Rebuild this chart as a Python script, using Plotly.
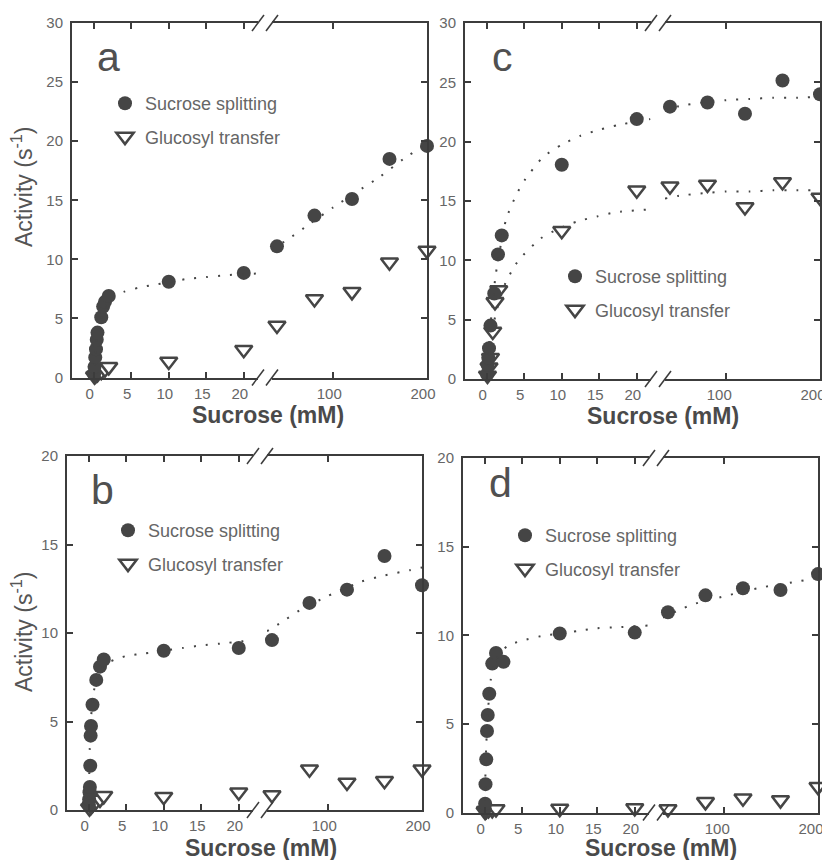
import plotly.graph_objects as go

# ---------------- data ----------------
# Panel a
a_suc_x = [0.05, 0.1, 0.2, 0.3, 0.4, 0.5, 1.0, 1.25, 1.5, 2.0, 10, 20, 40, 80, 120, 160, 200]
a_suc_y = [0.3, 0.9, 1.7, 2.4, 3.2, 3.8, 5.1, 6.0, 6.4, 6.9, 8.1, 8.85, 11.1, 13.7, 15.1, 18.5, 19.6]
a_glu_x = [0.1, 0.25, 0.5, 1.0, 1.5, 2.0, 10, 20, 40, 80, 120, 160, 200]
a_glu_y = [0.1, 0.2, 0.3, 0.5, 0.7, 0.9, 1.35, 2.35, 4.4, 6.65, 7.25, 9.75, 10.75]
a_fit_suc_x = [0, 0.1, 0.25, 0.5, 1.0, 1.5, 2.0, 3.0, 4.0, 6.0, 8.0, 10, 12.5, 15, 17.5, 20, 21.9,
               34.7, 50, 75, 100, 125, 150, 175, 200]
a_fit_suc_y = [0, 1.0, 2.2, 3.6, 5.0, 5.9, 6.4, 6.95, 7.25, 7.6, 7.85, 8.05, 8.35, 8.5, 8.65, 8.75, 8.8,
               10.9, 11.6, 13.0, 14.4, 15.7, 17.0, 18.5, 19.8]

# Panel c
c_suc_x = [0.05, 0.1, 0.2, 0.3, 0.5, 1.0, 1.5, 2.0, 10, 20, 40, 80, 120, 160, 200]
c_suc_y = [0.4, 1.2, 1.8, 2.6, 4.5, 7.2, 10.5, 12.1, 18.05, 21.9, 22.95, 23.3, 22.35, 25.15, 24.0]
c_glu_x = [0.1, 0.3, 0.5, 0.8, 1.1, 1.6, 10, 20, 40, 80, 120, 160, 200]
c_glu_y = [0.3, 1.0, 1.8, 4.0, 6.5, 7.5, 12.5, 15.9, 16.25, 16.4, 14.5, 16.6, 15.3]
c_fit_suc_x = [0, 0.5, 1.2, 2.6, 4.0, 5.1, 7.5, 10, 12.5, 15, 17.5, 21.8,
               34.7, 50, 75, 100, 125, 150, 175, 200]
c_fit_suc_y = [0, 4.5, 8.8, 13.5, 15.6, 16.8, 18.7, 19.75, 20.5, 21.0, 21.4, 21.9,
               22.7, 23.0, 23.3, 23.5, 23.6, 23.7, 23.7, 23.8]
c_fit_glu_x = [0, 0.5, 1.2, 2.5, 3.8, 4.8, 7.2, 9.7, 12.2, 14.7, 17.2, 21.8,
               34.7, 50, 75, 100, 125, 150, 175, 200]
c_fit_glu_y = [0, 3.0, 5.5, 8.1, 9.6, 10.4, 11.85, 12.7, 13.3, 13.7, 14.05, 14.3,
               15.2, 15.45, 15.65, 15.8, 15.8, 15.9, 15.9, 15.9]

# Panel b
b_suc_x = [0.02, 0.05, 0.1, 0.15, 0.2, 0.25, 0.3, 0.5, 1.0, 1.5, 2.0, 10, 20, 40, 80, 120, 160, 200]
b_suc_y = [0.3, 0.6, 1.0, 1.3, 2.5, 4.2, 4.75, 5.95, 7.35, 8.1, 8.5, 9.0, 9.15, 9.6, 11.7, 12.45, 14.35, 12.7]
b_glu_x = [0.1, 0.3, 0.5, 1.0, 1.5, 2.0, 10, 20, 40, 80, 120, 160, 200]
b_glu_y = [0.1, 0.2, 0.3, 0.5, 0.6, 0.8, 0.75, 1.0, 0.85, 2.3, 1.55, 1.65, 2.3]
b_fit_suc_x = [0, 0.05, 0.13, 0.3, 0.7, 1.2, 2.0, 3.5, 5, 7.5, 10, 12.5, 15, 17.5, 21.9,
               34.7, 50, 70, 100, 135, 160, 187, 200]
b_fit_suc_y = [0, 1.6, 3.45, 5.2, 6.75, 7.6, 8.2, 8.5, 8.7, 8.85, 9.0, 9.15, 9.3, 9.4, 9.6,
               10.1, 10.6, 11.3, 12.1, 12.9, 13.25, 13.55, 13.7]

# Panel d
d_suc_x = [0.02, 0.05, 0.1, 0.2, 0.3, 0.4, 0.6, 1.0, 1.5, 2.5, 10, 20, 40, 80, 120, 160, 200]
d_suc_y = [0.2, 0.5, 1.6, 3.0, 4.6, 5.5, 6.7, 8.4, 9.0, 8.5, 10.1, 10.15, 11.3, 12.25, 12.65, 12.55, 13.45]
d_glu_x = [0.05, 0.1, 0.2, 0.5, 1.0, 1.5, 10, 20, 40, 80, 120, 160, 200]
d_glu_y = [0.05, 0.1, 0.1, 0.15, 0.15, 0.2, 0.22, 0.25, 0.2, 0.6, 0.8, 0.7, 1.45]
d_fit_suc_x = [0, 0.05, 0.1, 0.2, 0.4, 0.8, 1.5, 3.0, 5, 7.5, 10, 12.5, 15, 17.5, 21.9,
               34.7, 53, 67, 100, 140, 175, 200]
d_fit_suc_y = [0, 1.0, 2.4, 3.8, 5.5, 7.5, 8.6, 9.4, 9.7, 9.95, 10.1, 10.25, 10.4, 10.45, 10.55,
               11.0, 11.45, 11.75, 12.2, 12.7, 13.0, 13.25]

left_ticks = [0, 5, 10, 15, 20]
right_ticks = [100, 200]
series_names = ["Sucrose splitting", "Glucosyl transfer"]
panel_letters = ["a", "c", "b", "d"]
x_title = "Sucrose (mM)"
y_title = "Activity (s<sup>-1</sup>)"

# ---------------- geometry / style ----------------
# page body has an 8px margin, so the figure starts at (8, 8) in the window
OFF = 8
W, H = 830 - OFF, 860 - OFF
LEFT_RANGE = [-2.9, 21.9]
RIGHT_RANGE = [34.7, 200]
LEFT_W, GAP, FULL_W = 186, 14, 355
FONT = "Liberation Sans, Arial, sans-serif"
AX = "#3c3c3c"
MK = "#454545"
TXT = "#666666"


def fx(p):
    return (p - OFF) / W


def fy(p):
    return 1 - (p - OFF) / H


panels = [
    dict(letter=panel_letters[0], left=72, top=23, bottom=377.5, ymax=30,
         suc=(a_suc_x, a_suc_y), glu=(a_glu_x, a_glu_y),
         fits=[(a_fit_suc_x, a_fit_suc_y)], rshift=-4,
         legend_pos=(145, 103), letter_pos=(95, 57), xt_pos=(268, 415), yt_pos=(22, 187)),
    dict(letter=panel_letters[1], left=465, top=23, bottom=379, ymax=30,
         suc=(c_suc_x, c_suc_y), glu=(c_glu_x, c_glu_y),
         fits=[(c_fit_suc_x, c_fit_suc_y), (c_fit_glu_x, c_fit_glu_y)], rshift=-7,
         legend_pos=(595, 276), letter_pos=(490, 57), xt_pos=(663, 416), yt_pos=None),
    dict(letter=panel_letters[2], left=67, top=456, bottom=810, ymax=20,
         suc=(b_suc_x, b_suc_y), glu=(b_glu_x, b_glu_y),
         fits=[(b_fit_suc_x, b_fit_suc_y)], rshift=-4,
         legend_pos=(148, 530), letter_pos=(89, 490), xt_pos=(261, 848), yt_pos=(22, 632)),
    dict(letter=panel_letters[3], left=463, top=458, bottom=812.5, ymax=20,
         suc=(d_suc_x, d_suc_y), glu=(d_glu_x, d_glu_y),
         fits=[(d_fit_suc_x, d_fit_suc_y)], rshift=-7,
         legend_pos=(545, 535), letter_pos=(487, 483), xt_pos=(661, 848), yt_pos=None),
]


def split(xs, ys):
    lx = [x for x in xs if x <= LEFT_RANGE[1]]
    ly = [y for x, y in zip(xs, ys) if x <= LEFT_RANGE[1]]
    rx = [x for x in xs if x >= RIGHT_RANGE[0]]
    ry = [y for x, y in zip(xs, ys) if x >= RIGHT_RANGE[0]]
    return (lx, ly), (rx, ry)


fig = go.Figure()
layout = {}
shapes = []
annotations = []

axis_common = dict(showgrid=False, zeroline=False, showline=True, linecolor=AX, linewidth=2,
                   ticks="inside", ticklen=6, tickwidth=1.5, tickcolor=AX, automargin=False,
                   tickfont=dict(family=FONT, size=15, color=TXT))

for i, p in enumerate(panels):
    k1, k2 = 2 * i + 1, 2 * i + 2
    xa1 = "x" if k1 == 1 else f"x{k1}"
    ya1 = "y" if k1 == 1 else f"y{k1}"
    xa2, ya2 = f"x{k2}", f"y{k2}"
    leg = "legend" if i == 0 else f"legend{i + 1}"
    L = p["left"]
    ydom = [fy(p["bottom"]), fy(p["top"])]

    layout["xaxis" if k1 == 1 else f"xaxis{k1}"] = dict(
        axis_common, domain=[fx(L), fx(L + LEFT_W)], range=LEFT_RANGE, anchor=ya1,
        tickvals=left_ticks, mirror="ticks", ticklabelstandoff=1, ticklabelshift=-4,
        ticklabeloverflow="allow")
    layout[f"xaxis{k2}"] = dict(
        axis_common, domain=[fx(L + LEFT_W + GAP), fx(L + FULL_W)], range=RIGHT_RANGE, anchor=ya2,
        tickvals=right_ticks, mirror="ticks", ticklabelstandoff=1, ticklabelshift=p["rshift"],
        ticklabeloverflow="allow")
    ytv = list(range(0, p["ymax"] + 1, 5))
    layout["yaxis" if k1 == 1 else f"yaxis{k1}"] = dict(
        axis_common, domain=ydom, range=[0, p["ymax"]], anchor=xa1, tickvals=ytv,
        side="left", ticklabelstandoff=4, ticklabeloverflow="allow")
    layout[f"yaxis{k2}"] = dict(
        axis_common, domain=ydom, range=[0, p["ymax"]], anchor=xa2, tickvals=ytv,
        side="right", showticklabels=False)

    # markers: open triangles first, filled circles drawn over them
    for key, name, rank in [("glu", series_names[1], 2), ("suc", series_names[0], 1)]:
        xs, ys = p[key]
        (lx, ly), (rx, ry) = split(xs, ys)
        if key == "suc":
            marker = dict(symbol="circle", size=14, color=MK, line=dict(width=0))
        else:
            marker = dict(symbol="triangle-down", size=15, color="white",
                          line=dict(width=2.5, color=MK))
        grp = f"{p['letter']}_{key}"
        fig.add_trace(go.Scatter(x=lx, y=ly, xaxis=xa1, yaxis=ya1, mode="markers", marker=marker,
                                 name=name, legend=leg, legendgroup=grp, legendrank=rank,
                                 showlegend=True, cliponaxis=False))
        fig.add_trace(go.Scatter(x=rx, y=ry, xaxis=xa2, yaxis=ya2, mode="markers", marker=marker,
                                 name=name, legend=leg, legendgroup=grp, legendrank=rank,
                                 showlegend=False, cliponaxis=False))
    # dotted fit curves
    for fxs, fys in p["fits"]:
        (lx, ly), (rx, ry) = split(fxs, fys)
        for xs_, ys_, xa, ya in [(lx, ly, xa1, ya1), (rx, ry, xa2, ya2)]:
            fig.add_trace(go.Scatter(x=xs_, y=ys_, xaxis=xa, yaxis=ya, mode="lines",
                                     line=dict(color=MK, width=2, dash="2px,10px", shape="spline",
                                               smoothing=0.6),
                                     showlegend=False, hoverinfo="skip", cliponaxis=False))

    # legend
    tx, ty = p["legend_pos"]
    layout[leg] = dict(x=fx(tx - 40), y=fy(ty - 18), xanchor="left", yanchor="top",
                       bgcolor="rgba(0,0,0,0)", borderwidth=0, tracegroupgap=7,
                       traceorder="grouped",
                       font=dict(family=FONT, size=18, color=TXT), itemwidth=30)

    # axis break marks
    for yb in (p["top"], p["bottom"]):
        for xb in (L + LEFT_W, L + LEFT_W + GAP):
            shapes.append(dict(type="line", xref="paper", yref="paper",
                               x0=fx(xb - 6), y0=fy(yb + 8), x1=fx(xb + 6), y1=fy(yb - 8),
                               line=dict(color=AX, width=1.5)))

    # panel letter
    lx_, ly_ = p["letter_pos"]
    annotations.append(dict(text=p["letter"], xref="paper", yref="paper", x=fx(lx_), y=fy(ly_),
                            xanchor="left", yanchor="middle", showarrow=False,
                            font=dict(family=FONT, size=41, color="#505050")))
    # x title
    tx_, ty_ = p["xt_pos"]
    annotations.append(dict(text=f"<b>{x_title}</b>", xref="paper", yref="paper",
                            x=fx(tx_), y=fy(ty_), xanchor="center", yanchor="middle",
                            showarrow=False, font=dict(family=FONT, size=23, color="#4a4a4a")))
    if p["yt_pos"]:
        yx, yy = p["yt_pos"]
        annotations.append(dict(text=y_title, xref="paper", yref="paper", x=fx(yx), y=fy(yy),
                                xanchor="center", yanchor="middle", textangle=-90,
                                showarrow=False, font=dict(family=FONT, size=23, color="#555555")))

fig.update_layout(width=W, height=H, margin=dict(l=0, r=0, t=0, b=0, autoexpand=False),
                  paper_bgcolor="white", plot_bgcolor="white",
                  font=dict(family=FONT, color=TXT), showlegend=True,
                  shapes=shapes, annotations=annotations, **layout)

fig.write_html("out.html")
